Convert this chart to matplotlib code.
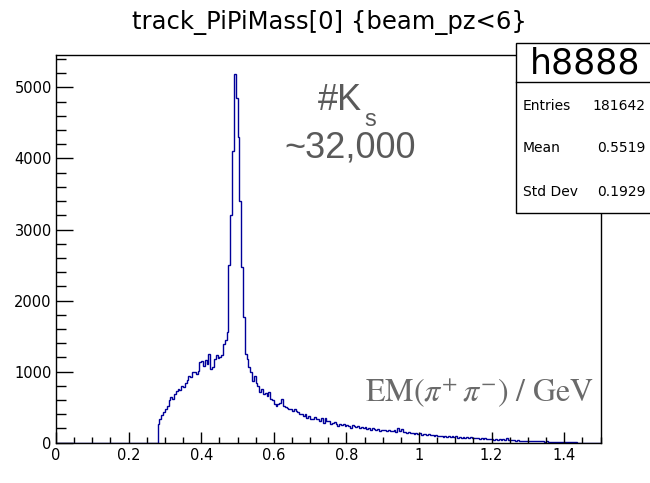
import numpy as np
import matplotlib
matplotlib.use("Agg")
import matplotlib.pyplot as plt
from matplotlib.patches import Rectangle
from matplotlib.lines import Line2D
from matplotlib.ticker import MultipleLocator

# histogram definition: 0.005 GeV bins starting at the 2*m_pi threshold
first_edge = 0.28
bin_width = 0.005

counts = [
    270, 330, 390, 430, 480, 520, 600, 640, 610, 680,        # 0.28
    730, 760, 740, 800, 780, 840, 880, 940, 920, 990,        # 0.33
    1000, 960, 1010, 1130, 1150, 1080, 1160, 1110, 1250, 1040,  # 0.38
    1060, 1180, 1230, 1190, 1210, 1230, 1390, 1450, 1560, 2500,  # 0.43
    3200, 4100, 5190, 4850, 4300, 3400, 2470, 1770, 1250, 1180,  # 0.48
    1060, 990, 870, 940, 845, 800, 710, 760, 690, 700,       # 0.53
    660, 710, 620, 600, 550, 520, 540, 560, 620, 520,        # 0.58
    500, 490, 480, 470, 450, 470, 450, 430, 400, 410,        # 0.63
    380, 400, 350, 370, 340, 330, 365, 340, 330, 310,        # 0.68
    345, 280, 345, 300, 310, 265, 280, 290, 265, 240,        # 0.73
    260, 250, 270, 240, 250, 240, 210, 245, 240, 215,        # 0.78
    230, 210, 225, 200, 215, 195, 205, 185, 200, 190,        # 0.83
    180, 195, 170, 185, 175, 180, 165, 175, 160, 170,        # 0.88
    185, 150, 200, 160, 190, 145, 155, 140, 150, 135,        # 0.93
    140, 125, 135, 120, 140, 115, 125, 120, 110, 118,        # 0.98
    105, 112, 100, 108, 95, 90, 98, 85, 90, 80,              # 1.03
    88, 78, 100, 75, 95, 70, 82, 72, 78, 68,                 # 1.08
    75, 65, 80, 60, 72, 62, 70, 55, 62, 58,                  # 1.13
    66, 50, 58, 48, 55, 45, 52, 42, 50, 40,                  # 1.18
    46, 38, 60, 35, 40, 32, 36, 30, 34, 28,                  # 1.23
    30, 26, 30, 25, 28, 22, 26, 20, 24, 18,                  # 1.28
    22, 17, 20, 16, 25, 14, 16, 12, 14, 10,                  # 1.33
    12, 9, 10, 8, 9, 6, 7, 5, 6, 4,                          # 1.38
    3, 0, 2, 0, 0, 0, 0, 0, 0, 0,                            # 1.43
    0, 0, 0, 0,                                              # 1.48
]

x_range = (0.0, 1.5)
x_major = 0.2
x_minor = 0.05
y_major = 1000
y_minor = 200

title = "track_PiPiMass[0] {beam_pz<6}"
hist_name = "h8888"
stats_labels = ["Entries", "Mean", "Std Dev"]
stats_values = ["181642", "0.5519", "0.1929"]

W, H = 650, 483


def px(x, y):
    # pixel position (from top-left) -> figure fraction
    return x / W, 1 - y / H


plt.rcParams["font.family"] = ["DejaVu Sans"]
plt.rcParams["mathtext.fontset"] = "stix"

fig = plt.figure(figsize=(W / 100, H / 100), dpi=100)
left, bottom = px(56, 442.7)
right, top = px(600.5, 55.5)
ax = fig.add_axes([left, bottom, right - left, top - bottom])

counts = np.array(counts, dtype=float)
edges = first_edge + bin_width * np.arange(len(counts) + 1)
ax.stairs(counts, edges, baseline=0, color="#000099", linewidth=1.0)
ax.plot([x_range[0], first_edge], [0, 0], color="#000099", linewidth=1.0)

ax.set_xlim(*x_range)
ax.set_ylim(0, counts.max() * 1.05)

ax.xaxis.set_major_locator(MultipleLocator(x_major))
ax.xaxis.set_minor_locator(MultipleLocator(x_minor))
ax.yaxis.set_major_locator(MultipleLocator(y_major))
ax.yaxis.set_minor_locator(MultipleLocator(y_minor))
ax.xaxis.set_major_formatter(lambda v, p: f"{v:g}")
ax.tick_params(axis="both", which="both", direction="in", labelsize=10.5,
               top=False, right=False, width=1.0, colors="black")
ax.tick_params(axis="x", which="major", length=8, pad=4)
ax.tick_params(axis="x", which="minor", length=4)
ax.tick_params(axis="y", which="major", length=12, pad=3)
ax.tick_params(axis="y", which="minor", length=7)
for s in ax.spines.values():
    s.set_linewidth(1.0)

fig.text(*px(329, 29), title, ha="center", va="baseline", fontsize=17.5)

# annotation
gray = "#5a5a5a"
fig.text(*px(318, 110), "#K", ha="left", va="baseline", fontsize=26,
         color=gray, family="Liberation Sans")
fig.text(*px(364, 126), "s", ha="left", va="baseline", fontsize=17,
         color=gray, family="Liberation Sans")
fig.text(*px(350, 157), "~32,000", ha="center", va="baseline", fontsize=26,
         color=gray, family="Liberation Sans")
fig.text(*px(365, 402), r"$\mathrm{EM}(\pi^{+}\,\pi^{-})\ /\ \mathrm{GeV}$",
         ha="left", va="baseline", fontsize=23, color="#6a6a6a")

# stats box
bx0, bx1 = 516, 660
by0, by1, bsep = 42.7, 212.7, 82
x0, y0 = px(bx0, by1)
x1, y1 = px(bx1, by0)
fig.patches.append(Rectangle((x0, y0), x1 - x0, y1 - y0, transform=fig.transFigure,
                             facecolor="white", edgecolor="black", linewidth=1.0,
                             zorder=5))
sx0, sy = px(bx0, bsep)
sx1, _ = px(bx1, bsep)
fig.lines.append(Line2D([sx0, sx1], [sy, sy], transform=fig.transFigure,
                        color="black", linewidth=1.0, zorder=6))
fig.text(*px(585, 63), hist_name, ha="center", va="center", fontsize=25, zorder=7)
for lab, val, yy in zip(stats_labels, stats_values, [106, 148.5, 192]):
    fig.text(*px(523, yy), lab, ha="left", va="center", fontsize=10, zorder=7)
    fig.text(*px(645.5, yy), val, ha="right", va="center", fontsize=10, zorder=7)

fig.savefig("out.png", dpi=100)
